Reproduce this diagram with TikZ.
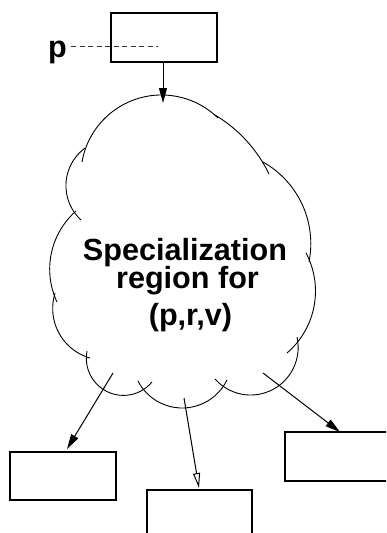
\documentclass[tikz,border=0pt]{standalone}
\usepackage{fontspec}
\setmainfont{Liberation Sans}
\usetikzlibrary{arrows.meta}

% Circular arc through three points (x1,y1) (x2,y2) (x3,y3), drawn from the
% first to the third point, passing through the second one.
\newcommand\cloudarc[6]{%
  \pgfmathsetmacro\clAx{#1/100}\pgfmathsetmacro\clAy{#2/100}%
  \pgfmathsetmacro\clBx{#3/100}\pgfmathsetmacro\clBy{#4/100}%
  \pgfmathsetmacro\clCx{#5/100}\pgfmathsetmacro\clCy{#6/100}%
  \pgfmathsetmacro\clDen{2*(\clAx*(\clBy-\clCy)+\clBx*(\clCy-\clAy)+\clCx*(\clAy-\clBy))}%
  \pgfmathsetmacro\clSA{\clAx*\clAx+\clAy*\clAy}%
  \pgfmathsetmacro\clSB{\clBx*\clBx+\clBy*\clBy}%
  \pgfmathsetmacro\clSC{\clCx*\clCx+\clCy*\clCy}%
  \pgfmathsetmacro\clUx{(\clSA*(\clBy-\clCy)+\clSB*(\clCy-\clAy)+\clSC*(\clAy-\clBy))/\clDen}%
  \pgfmathsetmacro\clUy{(\clSA*(\clCx-\clBx)+\clSB*(\clAx-\clCx)+\clSC*(\clBx-\clAx))/\clDen}%
  \pgfmathsetmacro\clRad{100*veclen(\clAx-\clUx,\clAy-\clUy)}%
  \pgfmathsetmacro\clStart{atan2(\clAy-\clUy,\clAx-\clUx)}%
  \pgfmathsetmacro\clMid{mod(atan2(\clBy-\clUy,\clBx-\clUx)-\clStart+720,360)}%
  \pgfmathsetmacro\clEndRel{mod(atan2(\clCy-\clUy,\clCx-\clUx)-\clStart+720,360)}%
  \pgfmathsetmacro\clEnd{\clMid<\clEndRel ? \clStart+\clEndRel : \clStart+\clEndRel-360}%
  \draw[cloudline] (#1,#2) arc[start angle=\clStart, end angle=\clEnd, radius=\clRad];%
}

\tikzset{
  cloudline/.style={line width=0.9pt},
  box/.style={draw, line width=1.1pt, rectangle, inner sep=0pt,
              minimum width=106pt, minimum height=49pt},
  flow/.style={line width=1pt, -{Triangle[length=15pt,width=8pt]}},
  flowopen/.style={line width=1pt, -{Triangle[open,length=15pt,width=7pt]}},
  big/.style={font=\fontsize{30.6}{36}\selectfont\bfseries, inner sep=0pt},
}

\begin{document}
\begin{tikzpicture}[x=1pt, y=-1pt]
  \useasboundingbox (0,0) rectangle (386,533);
  \clip (0,0) rectangle (386,533);
  \fill[white] (0,0) rectangle (386,533);

  % boxes
  \node[box] (top) at (164,37.5) {};
  \node[box, minimum height=48pt] (left) at (63,476) {};
  \node[box, minimum width=105pt, minimum height=52pt] (mid) at (199.5,516) {};
  \node[box] (right) at (338,456.5) {};

  % pointer p
  \node[big, anchor=base west] (p) at (48,57) {p};
  \coordinate (pend) at (158,46);
  \draw[line width=0.9pt, dash pattern=on 5pt off 3.5pt, black!80] (p.east |- pend) ++(4,0) coordinate (pstart) -- (pend);

  % cloud outline
  \cloudarc{82}{162}{163}{95}{218}{118}
  \cloudarc{215}{115}{243}{137}{269}{174}
  \cloudarc{263}{162}{300}{200}{309}{262}
  \cloudarc{306}{253}{315}{300}{287}{353}
  \cloudarc{297}{337}{250}{395}{215}{379}
  \cloudarc{227}{380}{183}{408}{138}{381}
  \cloudarc{152}{382}{118}{395}{87}{351}
  \cloudarc{90}{358}{60}{335}{55}{293}
  \cloudarc{57}{302}{50}{262}{76}{211}
  \cloudarc{81}{220}{66}{183}{85}{148}

  % cloud label
  \node[big, anchor=base] (l1) at (185,260) {Specialization};
  \node[big, anchor=base] (l2) at (187.5,288) {region for};
  \node[big, anchor=base] (l3) at (190.5,325) {(p,r,v)};

  % connectors
  \coordinate (in) at (163,103);
  \draw[flow] (top.south -| in) -- (in);

  \coordinate (o1) at (113,373);
  \coordinate (t1) at (67,449);
  \coordinate (o2) at (184,398);
  \coordinate (t2) at (199,488);
  \coordinate (o3) at (263,373);
  \coordinate (t3) at (340,432);
  \draw[flow] (o1) -- (t1);
  \draw[flowopen] (o2) -- (t2);
  \draw[flow] (o3) -- (t3);
\end{tikzpicture}
\end{document}
